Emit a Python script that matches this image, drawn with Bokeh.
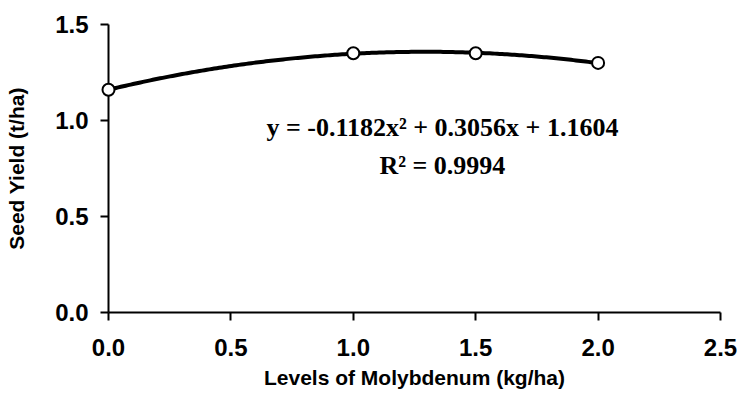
import numpy as np
from bokeh.plotting import figure
from bokeh.models import Range1d, FixedTicker, Label, PrintfTickFormatter
from bokeh.embed import file_html
from bokeh.resources import INLINE

# ---- data ----
mo_levels = [0.0, 1.0, 1.5, 2.0]
seed_yield = [1.16, 1.35, 1.35, 1.30]
fit_coeffs = [-0.1182, 0.3056, 1.1604]   # quadratic trend line shown on chart
r_squared = 0.9994
x_ticks = [0.0, 0.5, 1.0, 1.5, 2.0, 2.5]
y_ticks = [0.0, 0.5, 1.0, 1.5]
x_title = "Levels of Molybdenum (kg/ha)"
y_title = "Seed Yield (t/ha)"

p = figure(width=737, height=391, output_backend="svg", toolbar_location=None,
           x_range=Range1d(0, 2.5), y_range=Range1d(0, 1.5),
           min_border_left=108, min_border_right=17, min_border_top=24,
           min_border_bottom=78)
p.outline_line_color = None
p.xgrid.visible = False
p.ygrid.visible = False
p.background_fill_color = "white"
p.border_fill_color = "white"

# trend line
xs = np.linspace(min(mo_levels), max(mo_levels), 200)
ys = np.polyval(fit_coeffs, xs)
p.line(xs, ys, line_color="black", line_width=4)

# observed points
p.scatter(mo_levels, seed_yield, marker="circle", size=12, fill_color="white",
          line_color="black", line_width=2, level="overlay")

for ax, ticks in ((p.xaxis, x_ticks), (p.yaxis, y_ticks)):
    ax.ticker = FixedTicker(ticks=ticks)
    ax.formatter = PrintfTickFormatter(format="%.1f")
    ax.minor_tick_line_color = None
    ax.major_tick_in = 0
    ax.major_tick_out = 8
    ax.major_tick_line_width = 2
    ax.axis_line_width = 2
    ax.axis_line_color = "black"
    ax.major_tick_line_color = "black"
    ax.major_label_text_font = "Liberation Sans"
    ax.major_label_text_font_style = "bold"
    ax.major_label_text_font_size = "24px"
    ax.major_label_text_color = "black"
    ax.axis_label_text_font = "Liberation Sans"
    ax.axis_label_text_font_style = "bold"
    ax.axis_label_text_font_size = "21px"
    ax.axis_label_text_color = "black"

p.xaxis.axis_label = x_title
p.yaxis.axis_label = y_title
p.yaxis.major_label_standoff = 12
p.yaxis.axis_label_standoff = 24
p.xaxis.major_label_standoff = 18
p.xaxis.axis_label_standoff = 7

a, b, c = fit_coeffs
eq_text = f"y = {a:.4f}x\u00b2 + {b:.4f}x + {c:.4f}"
r2_text = f"R\u00b2 = {r_squared:.4f}"
eq_x = 1.364
for txt, yy in ((eq_text, 0.963), (r2_text, 0.768)):
    p.add_layout(Label(x=eq_x, y=yy, text=txt, text_align="center",
                       text_baseline="alphabetic", text_font="Liberation Serif",
                       text_font_style="bold", text_font_size="26px",
                       text_color="black"))

open("out.html", "w").write(file_html(p, INLINE))
